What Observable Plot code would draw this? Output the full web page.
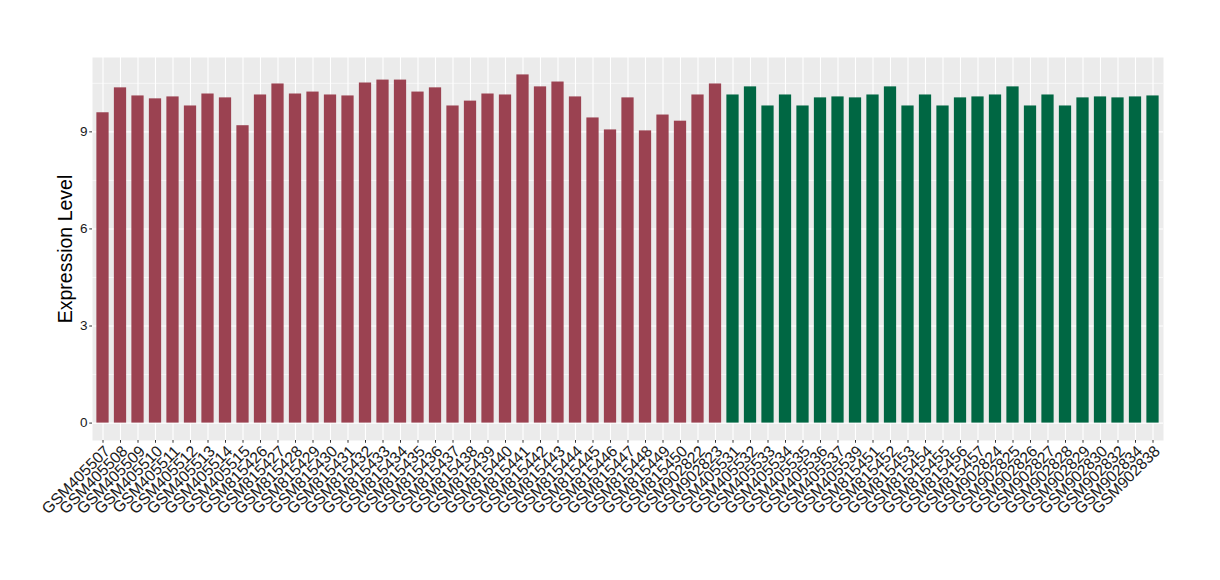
<!DOCTYPE html>
<html><head><meta charset="utf-8">
<script src="https://cdn.jsdelivr.net/npm/d3@7"></script>
<script src="https://cdn.jsdelivr.net/npm/@observablehq/plot@0.6"></script>
<style>body{margin:0;background:#fff;}</style>
</head><body><div id="chart"></div>
<script>
const samples = [
  "GSM405507","GSM405508","GSM405509","GSM405510","GSM405511","GSM405512","GSM405513","GSM405514","GSM405515",
  "GSM815426","GSM815427","GSM815428","GSM815429","GSM815430","GSM815431","GSM815432","GSM815433","GSM815434",
  "GSM815435","GSM815436","GSM815437","GSM815438","GSM815439","GSM815440","GSM815441","GSM815442","GSM815443",
  "GSM815444","GSM815445","GSM815446","GSM815447","GSM815448","GSM815449","GSM815450","GSM902822","GSM902823",
  "GSM405531","GSM405532","GSM405533","GSM405534","GSM405535","GSM405536","GSM405537","GSM405539",
  "GSM815451","GSM815452","GSM815453","GSM815454","GSM815455","GSM815456","GSM815457",
  "GSM902824","GSM902825","GSM902826","GSM902827","GSM902828","GSM902829","GSM902830","GSM902832","GSM902834","GSM902838"
];
const values = [
  9.59,10.36,10.11,10.02,10.08,9.80,10.17,10.05,9.19,
  10.14,10.48,10.17,10.23,10.14,10.11,10.51,10.60,10.60,
  10.23,10.36,9.80,9.95,10.17,10.14,10.76,10.39,10.54,
  10.08,9.43,9.06,10.05,9.03,9.52,9.33,10.14,10.48,
  10.14,10.39,9.80,10.14,9.80,10.05,10.08,10.05,
  10.14,10.39,9.80,10.14,9.80,10.05,10.08,
  10.14,10.39,9.80,10.14,9.80,10.05,10.08,10.05,10.08,10.11
];
const groupNames = ["Group 1","Group 2"];
const groupSizes = [36,25];
const groupColors = ["#9B4251","#006743"];
const yMajor = [0,3,6,9];
const yMinor = [1.5,4.5,7.5,10.5];

const groups = groupNames.flatMap((g,k)=>Array(groupSizes[k]).fill(g));
const data = samples.map((s,i)=>({sample:s, value:values[i], group:groups[i]}));
const yMax = d3.max(values);

const chart = Plot.plot({
  width:1220, height:580,
  marginTop:57, marginBottom:140, marginLeft:92, marginRight:57,
  style:{fontFamily:"'Liberation Sans', Arial, Helvetica, sans-serif", background:"#fff", color:"#000"},
  x:{domain:samples, paddingInner:0.3, paddingOuter:0.25, label:null, axis:null},
  y:{domain:[-0.05*yMax, 1.05*yMax], label:null, axis:null},
  color:{domain:groupNames, range:groupColors},
  marks:[
    Plot.frame({fill:"#EBEBEB", stroke:null}),
    Plot.ruleY(yMinor, {stroke:"#fff", strokeWidth:0.6}),
    Plot.ruleY(yMajor, {stroke:"#fff", strokeWidth:1.1}),
    Plot.ruleX(samples, {x:d=>d, stroke:"#fff", strokeWidth:1.1}),
    Plot.barY(data, {x:"sample", y1:0, y2:"value", fill:"group"}),
    Plot.axisY(yMajor, {tickSize:2.75, tickPadding:2.2, fontSize:13.5, stroke:"#333", fill:"#1a1a1a", label:null}),
    Plot.axisX({tickSize:2.75, tickPadding:1, tickRotate:-45, textAnchor:"end", lineAnchor:"top", fontSize:15.8, stroke:"#333", fill:"#1a1a1a", label:null}),
    Plot.text(["Expression Level"], {frameAnchor:"left", textAnchor:"middle", rotate:-90, dx:-27, fontSize:19.5, fill:"#000"})
  ]
});
document.getElementById("chart").appendChild(chart);
</script>
</body></html>
